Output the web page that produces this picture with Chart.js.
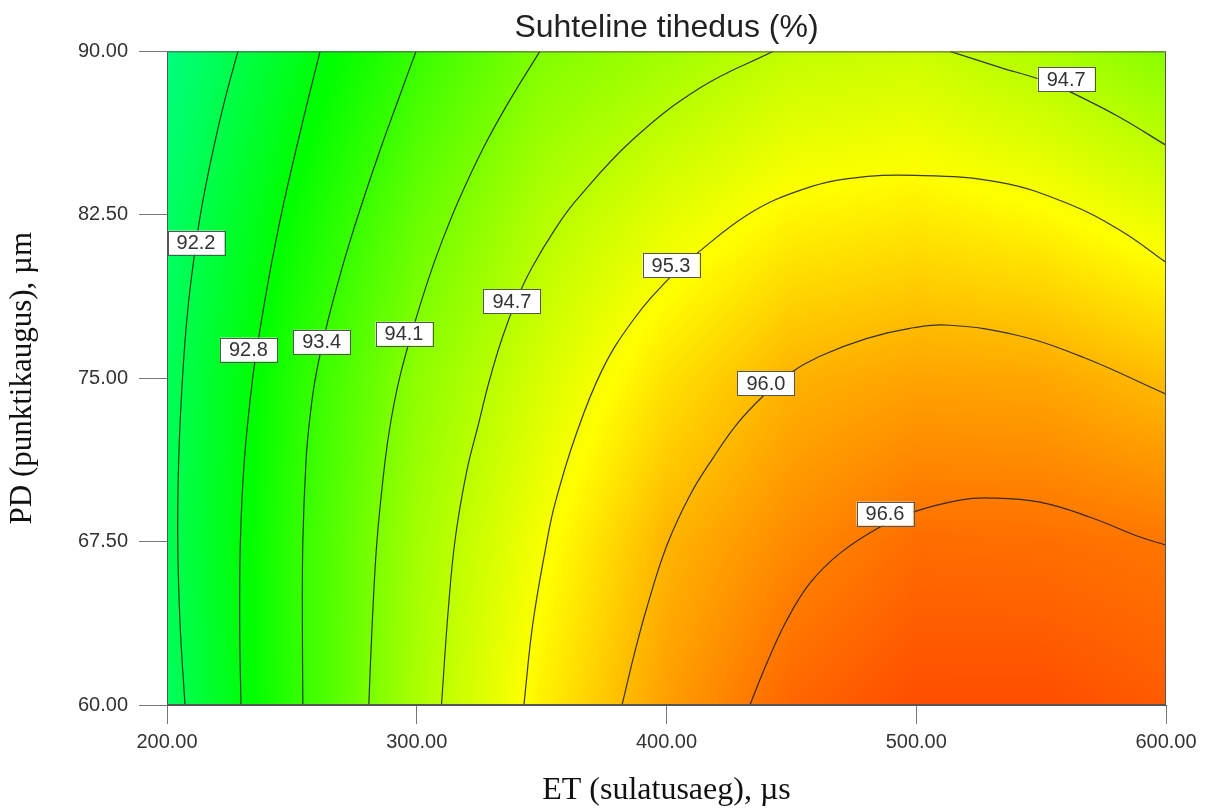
<!DOCTYPE html>
<html>
<head>
<meta charset="utf-8">
<title>Suhteline tihedus (%)</title>
<script src="https://cdn.jsdelivr.net/npm/chart.js@4.4.0/dist/chart.umd.min.js"></script>
<style>
  html, body { margin: 0; padding: 0; background: #fff; }
  #wrap { width: 1206px; height: 808px; }
</style>
</head>
<body>
<div id="wrap"><canvas id="densityChart" width="1206" height="808"></canvas></div>
<script>
// response surface (rows = PD, cols = ET)
const gridET = [200, 250, 300, 350, 400, 450, 500, 550, 600];
const gridPD = [90, 82.5, 75, 67.5, 60];
const gridDensity = [
  [91.68, 92.59, 93.40, 94.10, 94.40, 94.72, 94.80, 94.53, 94.15],
  [91.91, 92.94, 93.85, 94.57, 95.03, 95.38, 95.48, 95.34, 95.06],
  [92.05, 93.21, 94.22, 94.92, 95.57, 96.02, 96.16, 96.13, 95.92],
  [92.08, 93.31, 94.42, 95.22, 96.00, 96.40, 96.68, 96.66, 96.59],
  [92.00, 93.29, 94.50, 95.43, 96.21, 96.75, 96.98, 96.98, 96.85]
];

// contour levels and their traced points
const contourLevels = [92.2, 92.8, 93.4, 94.1, 94.7, 95.3, 96.0, 96.6, 94.7];
const contourET = [
  [228.4, 223.1, 218.7, 214.4, 211.6, 208.3, 206.2, 204.7, 204.3, 205.2, 207.2],
  [261.3, 256.4, 251.9, 247.0, 243.4, 240.6, 237.2, 234.3, 231.0, 229.4, 229.1, 229.6],
  [299.7, 292.5, 285.7, 278.5, 273.0, 268.7, 263.5, 259.4, 257.1, 255.7, 254.4, 254.2, 254.4],
  [349.3, 337.2, 326.8, 316.8, 309.8, 304.5, 298.3, 293.1, 289.7, 287.4, 284.1, 282.2, 280.8],
  [442.6, 413.8, 386.2, 363.9, 355.6, 346.2, 339.9, 334.3, 329.0, 324.6, 320.1, 315.5, 312.7, 309.9],
  [342.9, 346.5, 352.2, 355.4, 363.4, 374.2, 386.6, 401.4, 412.2, 433.4, 453.4, 473.5, 499.5, 533.5, 560.4, 581.6, 600],
  [382.2, 387.0, 392.2, 400.2, 409.4, 418.6, 428.2, 438.6, 449.4, 461.4, 480.3, 497.5, 513.5, 540.3, 566.8, 600],
  [433.4, 440.2, 448.2, 457.5, 469.5, 485.5, 498.7, 517.5, 529.5, 549.5, 569.6, 589.6, 600],
  [513.5, 533.5, 550.7, 560.4, 581.6, 600]
];
const contourPD = [
  [90, 87.75, 85.60, 83.17, 81.19, 78.12, 75.0, 71.28, 67.57, 63.81, 60],
  [90, 87.75, 85.60, 83.17, 81.19, 79.49, 77.20, 75.0, 71.28, 67.57, 63.81, 60],
  [90, 87.75, 85.60, 83.17, 81.19, 79.49, 77.20, 75.0, 73.07, 71.28, 67.57, 63.81, 60],
  [90, 87.75, 85.60, 83.17, 81.19, 79.49, 77.20, 75.0, 73.07, 71.28, 67.57, 63.81, 60],
  [90, 88.35, 85.92, 83.17, 81.88, 80.09, 78.58, 76.88, 74.86, 72.84, 70.78, 67.71, 64.50, 60],
  [60, 63.76, 67.57, 69.27, 72.29, 75.37, 77.66, 79.63, 80.73, 82.57, 83.62, 84.17, 84.31, 83.99, 83.03, 81.79, 80.32],
  [60, 62.29, 64.50, 67.34, 69.63, 71.33, 72.89, 74.17, 75.23, 76.01, 76.83, 77.29, 77.43, 76.97, 75.96, 74.27],
  [60, 61.93, 63.90, 65.60, 66.97, 68.17, 68.85, 69.40, 69.50, 69.31, 68.62, 67.71, 67.34],
  [90, 89.27, 88.67, 88.21, 86.97, 85.69]
];

// where each level label sits
const labelET = [211.6, 232.6, 261.9, 294.9, 338.1, 401.8, 439.8, 487.5, 560.0];
const labelPD = [81.22, 76.31, 76.67, 77.04, 78.53, 80.18, 74.77, 68.78, 88.72];

const xTicks = [200, 300, 400, 500, 600];
const yTicks = [60, 67.5, 75, 82.5, 90];

// colour scale: blue - cyan - green - yellow - red
const colorMin = 88.06, colorMax = 97.71;
const colorStops = [
  [0, [0, 0, 255]],
  [0.25, [0, 255, 255]],
  [0.5, [0, 255, 0]],
  [0.75, [255, 255, 0]],
  [1, [255, 0, 0]]
];

function densityColor(v) {
  let t = (v - colorMin) / (colorMax - colorMin);
  t = Math.max(0, Math.min(1, t));
  for (let i = 0; i < colorStops.length - 1; i++) {
    const s0 = colorStops[i], s1 = colorStops[i + 1];
    if (t <= s1[0]) {
      const f = (t - s0[0]) / (s1[0] - s0[0]);
      return [0, 1, 2].map(k => Math.round(s0[1][k] + (s1[1][k] - s0[1][k]) * f));
    }
  }
  return colorStops[colorStops.length - 1][1];
}

function densityAt(et, pd) {
  let i = 0;
  while (i < gridET.length - 2 && et > gridET[i + 1]) i++;
  let j = 0;
  while (j < gridPD.length - 2 && pd < gridPD[j + 1]) j++;
  const fx = Math.max(0, Math.min(1, (et - gridET[i]) / (gridET[i + 1] - gridET[i])));
  const fy = Math.max(0, Math.min(1, (pd - gridPD[j]) / (gridPD[j + 1] - gridPD[j])));
  const a = gridDensity[j][i], b = gridDensity[j][i + 1];
  const c = gridDensity[j + 1][i], d = gridDensity[j + 1][i + 1];
  return a * (1 - fx) * (1 - fy) + b * fx * (1 - fy) + c * (1 - fx) * fy + d * fx * fy;
}

// paints the colour field under the contour lines
const surfacePlugin = {
  id: 'surface',
  beforeDatasetsDraw(chart) {
    const { ctx, chartArea: area, scales: { x, y } } = chart;
    const w = Math.round(area.right - area.left);
    const h = Math.round(area.bottom - area.top);
    const off = document.createElement('canvas');
    off.width = w;
    off.height = h;
    const octx = off.getContext('2d');
    const img = octx.createImageData(w, h);
    for (let r = 0; r < h; r++) {
      const pd = y.getValueForPixel(area.top + r + 0.5);
      for (let c = 0; c < w; c++) {
        const et = x.getValueForPixel(area.left + c + 0.5);
        const col = densityColor(densityAt(et, pd));
        const k = (r * w + c) * 4;
        img.data[k] = col[0];
        img.data[k + 1] = col[1];
        img.data[k + 2] = col[2];
        img.data[k + 3] = 255;
      }
    }
    octx.putImageData(img, 0, 0);
    ctx.drawImage(off, area.left, area.top);
  }
};

// level labels and the frame round the plot
const labelPlugin = {
  id: 'levelLabels',
  afterDatasetsDraw(chart) {
    const { ctx, chartArea: area, scales: { x, y } } = chart;
    ctx.save();
    ctx.font = '20px "Liberation Sans", Arial, sans-serif';
    ctx.textAlign = 'center';
    ctx.textBaseline = 'middle';
    contourLevels.forEach((lvl, i) => {
      const txt = lvl.toFixed(1);
      const px = x.getPixelForValue(labelET[i]);
      const py = y.getPixelForValue(labelPD[i]);
      const bw = ctx.measureText(txt).width + 18;
      const bh = 24;
      ctx.fillStyle = '#fff';
      ctx.fillRect(px - bw / 2, py - bh / 2, bw, bh);
      ctx.strokeStyle = '#555';
      ctx.lineWidth = 1;
      ctx.strokeRect(Math.round(px - bw / 2) + 0.5, Math.round(py - bh / 2) + 0.5, Math.round(bw), bh);
      ctx.fillStyle = '#333';
      ctx.fillText(txt, px, py + 1);
    });
    ctx.strokeStyle = '#555';
    ctx.lineWidth = 1;
    ctx.strokeRect(area.left + 0.5, area.top + 0.5, area.right - area.left - 1, area.bottom - area.top - 1);
    ctx.restore();
  }
};

Chart.defaults.font.family = '"Liberation Sans", Arial, sans-serif';

const datasets = contourLevels.map((lvl, i) => ({
  label: lvl.toFixed(1),
  data: contourET[i].map((et, k) => ({ x: et, y: contourPD[i][k] })),
  showLine: true,
  borderColor: 'rgba(25,25,25,0.85)',
  borderWidth: 1.2,
  tension: 0.4,
  pointRadius: 0,
  fill: false
}));

const ctx = document.getElementById('densityChart').getContext('2d');
new Chart(ctx, {
  type: 'scatter',
  data: { datasets: datasets },
  options: {
    responsive: false,
    animation: false,
    layout: { padding: { left: 0, right: 40, top: 0, bottom: 0 } },
    plugins: {
      legend: { display: false },
      tooltip: { enabled: false },
      title: {
        display: true,
        text: 'Suhteline tihedus (%)',
        fullSize: false,
        color: '#222',
        font: { size: 32, weight: 'normal', lineHeight: 1.2 },
        padding: { top: 9, bottom: 4 }
      }
    },
    scales: {
      x: {
        type: 'linear',
        position: 'bottom',
        min: 200,
        max: 600,
        afterFit: s => { s.height = 103; },
        afterBuildTicks: s => { s.ticks = xTicks.map(v => ({ value: v })); },
        ticks: {
          color: '#333',
          font: { size: 20 },
          padding: 6,
          maxRotation: 0,
          callback: v => Number(v).toFixed(2)
        },
        grid: { drawOnChartArea: false, drawTicks: true, tickLength: 19, color: '#777' },
        border: { display: true, color: '#555' },
        title: {
          display: true,
          text: 'ET (sulatusaeg), µs',
          color: '#111',
          font: { family: '"Liberation Serif", "Times New Roman", serif', size: 32, lineHeight: 1 },
          padding: { top: 0, bottom: 1 }
        }
      },
      y: {
        type: 'linear',
        position: 'left',
        min: 60,
        max: 90,
        afterFit: s => { s.width = 167; },
        afterBuildTicks: s => { s.ticks = yTicks.map(v => ({ value: v })); },
        ticks: {
          color: '#333',
          font: { size: 20 },
          padding: 11,
          callback: v => Number(v).toFixed(2)
        },
        grid: { drawOnChartArea: false, drawTicks: true, tickLength: 28, color: '#777' },
        border: { display: true, color: '#555' },
        title: {
          display: true,
          text: 'PD (punktikaugus), µm',
          color: '#111',
          font: { family: '"Liberation Serif", "Times New Roman", serif', size: 31, lineHeight: 1 },
          padding: { top: 7, bottom: 0 }
        }
      }
    }
  },
  plugins: [surfacePlugin, labelPlugin]
});
</script>
</body>
</html>
